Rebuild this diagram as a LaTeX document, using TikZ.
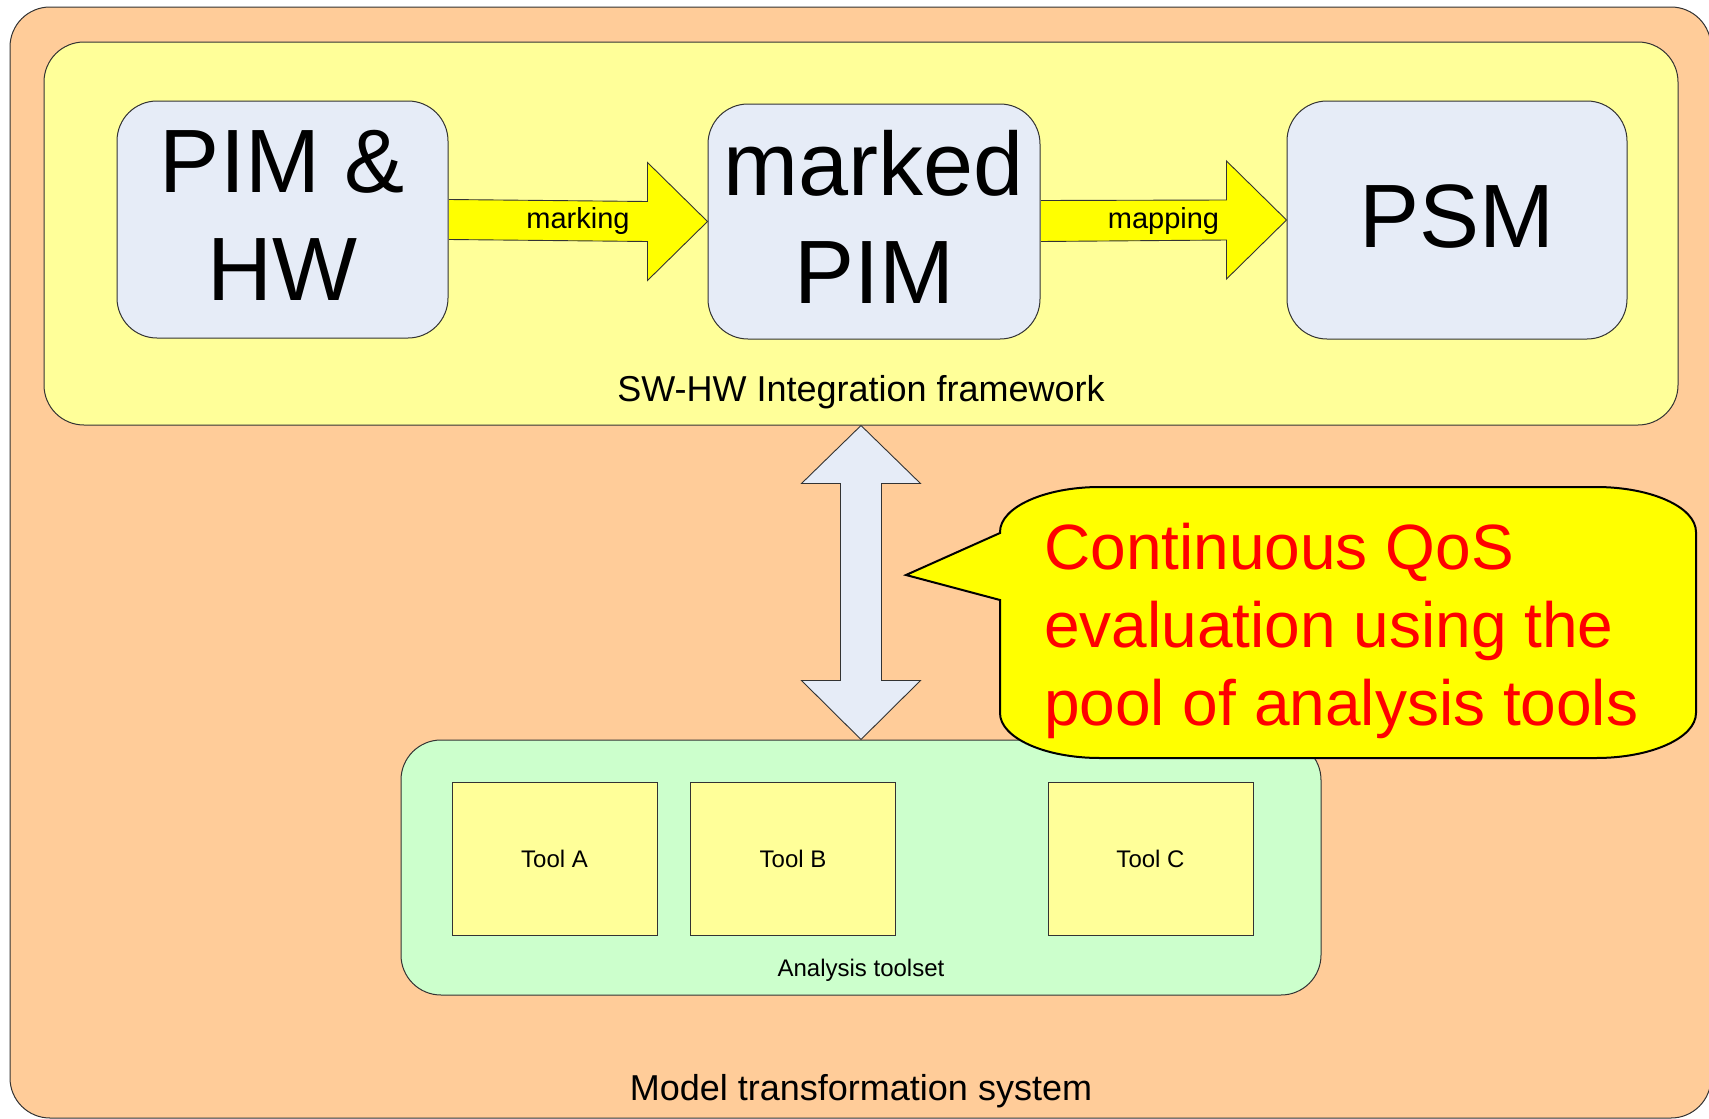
\documentclass[tikz,border=0pt]{standalone}
\usepackage{fontspec}
\setmainfont{Liberation Sans}
\usetikzlibrary{calc}
\definecolor{orangebg}{HTML}{FFCC99}
\definecolor{paleyellow}{HTML}{FFFF99}
\definecolor{paleblue}{HTML}{E6ECF7}
\definecolor{palegreen}{HTML}{CCFFCC}
\definecolor{brightyellow}{HTML}{FFFF00}
\definecolor{edgegray}{HTML}{333333}
\tikzset{
  container/.style={draw=edgegray, line width=1pt, rounded corners=40pt, inner sep=0pt},
  modelbox/.style={draw=edgegray, line width=1pt, fill=paleblue, rounded corners=40pt, inner sep=0pt},
  modeltext/.style={align=center, inner sep=0pt, font=\fontsize{90}{108}\selectfont},
  toolbox/.style={draw=edgegray, line width=1pt, fill=paleyellow, inner sep=0pt, minimum width=205pt, minimum height=153pt, font=\fontsize{24}{28}\selectfont},
  fatarrow/.style={draw=edgegray, line width=0.9pt, fill=brightyellow},
  dblarrow/.style={draw=edgegray, line width=0.9pt, fill=paleblue},
  arrowlabel/.style={inner sep=0pt, font=\fontsize{29}{34}\selectfont},
  framelabel/.style={inner sep=0pt, anchor=base, font=\fontsize{36}{42}\selectfont},
  calloutshape/.style={draw=black, line width=2pt, fill=brightyellow},
  callouttext/.style={inner sep=0pt, anchor=base west, align=left, text=red, font=\fontsize{64}{78}\selectfont},
}
\begin{document}
\begin{tikzpicture}[x=1pt,y=-1pt]
\useasboundingbox (0,0) rectangle (1709,1119);
% containers
\node[container, fill=orangebg, minimum width=1701pt, minimum height=1111pt] (mts) at (860.5,562.5) {};
\node[container, fill=paleyellow, minimum width=1634pt, minimum height=383pt] (frame) at (861,233.5) {};
\node[container, fill=palegreen, minimum width=920pt, minimum height=255pt] (toolset) at (861,867.5) {};
% model boxes
\node[modelbox, minimum width=331pt, minimum height=237pt] (pim) at (282.5,219.5) {};
\node[modelbox, minimum width=332pt, minimum height=235pt] (marked) at (874,221.5) {};
\node[modelbox, minimum width=340pt, minimum height=238pt] (psm) at (1457,220) {};
\node[modeltext, yshift=4pt] (pimtext) at (pim.center) {PIM \&\\HW};
\node[modeltext, yshift=5pt] (markedtext) at (marked.center) {marked\\PIM};
\node[modeltext, yshift=3pt] (psmtext) at (psm.center) {PSM};
% fat arrows
\filldraw[fatarrow] ($(pim.east)+(0.5,-20)$) -- ($(marked.west)+(-60,-20)$) -- ++(0,-39) -- (marked.west) -- ++(-60,59) -- ++(0,-39) -- ($(pim.east)+(0.5,20)$);
\filldraw[fatarrow] ($(marked.east)+(0.5,-21)$) -- ($(psm.west)+(-60,-20)$) -- ++(0,-39) -- (psm.west) -- ++(-60,59) -- ++(0,-39) -- ($(marked.east)+(0.5,20)$);
\node[arrowlabel] (marklabel) at ($(pim.east)!0.5!(marked.west)$) {marking};
\node[arrowlabel] (maplabel) at ($(marked.east)!0.5!(psm.west)$) {mapping};
% frame labels
\node[framelabel] (framelab) at ($(frame.south)+(0,-24)$) {SW-HW Integration framework};
\node[framelabel] (mtslab) at (861,1100) {Model transformation system};
% tools
\node[toolbox] (toola) at (554.5,858.5) {Tool A};
\node[toolbox] (toolb) at (793,858.5) {Tool B};
\node[toolbox] (toolc) at (1150.5,858.5) {Tool C};
\node[inner sep=0pt, anchor=base, font=\fontsize{24}{28}\selectfont] (toollab) at ($(toolset.south)+(0,-19)$) {Analysis toolset};
% double arrow
\filldraw[dblarrow] (frame.south) -- ++(59.5,58) -- ++(-39,0) -- ($(toolset.north)+(20.5,-59)$) -- ++(39,0) -- (toolset.north) -- ++(-59.5,-59) -- ++(39,0) -- ($(frame.south)+(-20.5,58)$) -- ++(-39,0) -- cycle;
% callout
\coordinate (callouttip) at (906,575);
\filldraw[calloutshape] (1000,600) -- (1000,713) arc[start angle=180, end angle=270, x radius=100pt, y radius=45pt] -- (1596,758) arc[start angle=270, end angle=360, x radius=100pt, y radius=45pt] -- (1696,532) arc[start angle=0, end angle=90, x radius=100pt, y radius=45pt] -- (1100,487) arc[start angle=90, end angle=180, x radius=100pt, y radius=45pt] -- (1000,533) -- (callouttip) -- cycle;
\node[callouttext] (callout) at (1044,725) {Continuous QoS\\evaluation using the\\pool of analysis tools};
\end{tikzpicture}
\end{document}
